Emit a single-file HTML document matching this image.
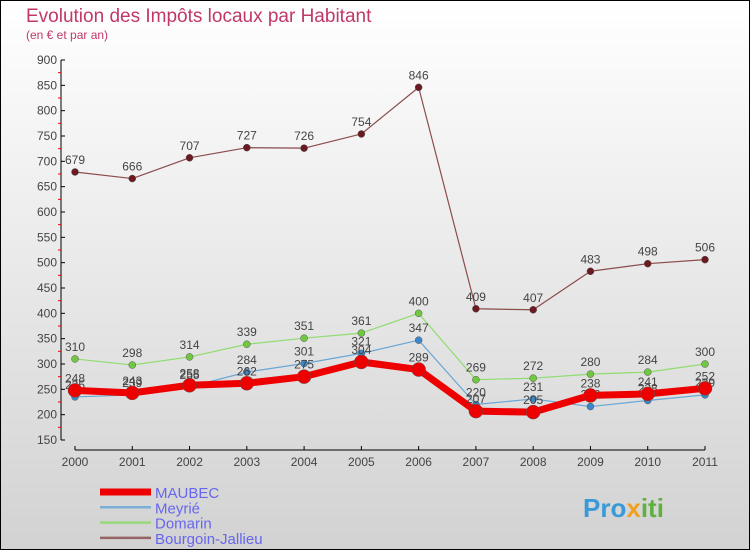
<!DOCTYPE html>
<html><head><meta charset="utf-8"><style>
body{margin:0;width:750px;height:550px;overflow:hidden;font-family:"Liberation Sans",sans-serif}
svg{display:block}
</style></head><body>
<svg id="chart" width="750" height="550" xmlns="http://www.w3.org/2000/svg">
<defs><linearGradient id="bg" x1="0" y1="0" x2="0" y2="1"><stop offset="0" stop-color="#ffffff"/><stop offset="1" stop-color="#d2d2d2"/></linearGradient></defs>
<rect x="0.5" y="0.5" width="749" height="549" fill="url(#bg)" stroke="#000"/>
<text x="26" y="22" font-size="19" fill="#c0386a">Evolution des Impôts locaux par Habitant</text>
<text x="26" y="39" font-size="12" fill="#c0386a">(en € et par an)</text>
<g id="axes"></g>
<g id="series"></g>
<g id="legend"></g>
<text x="583" y="517" font-size="26" font-weight="bold" fill="#3a9ad9">Pro<tspan fill="#f0a020">x</tspan><tspan fill="#60b040">iti</tspan></text>
</svg>
<script>
const years=["2000","2001","2002","2003","2004","2005","2006","2007","2008","2009","2010","2011"];
const yTicks=[150,200,250,300,350,400,450,500,550,600,650,700,750,800,850,900];
const maubec=[248,243,258,262,275,304,289,207,205,238,241,252];
const meyrie=[235,239,255,284,301,321,347,220,231,216,228,239];
const domarin=[310,298,314,339,351,361,400,269,272,280,284,300];
const bourgoin=[679,666,707,727,726,754,846,409,407,483,498,506];
const NS="http://www.w3.org/2000/svg";
function X(i){return 75+i*(630/11);}
function Y(v){return 60+(900-v)*(380/750);}
function mk(t,a,p){const e=document.createElementNS(NS,t);for(const k in a)e.setAttribute(k,a[k]);p.appendChild(e);return e;}
const ax=document.getElementById('axes');
let l=mk('line',{x1:61,y1:60,x2:61,y2:440,stroke:'#000'},ax);


yTicks.forEach((v,i)=>{
 const y=Y(v);
 mk('line',{x1:61,y1:y,x2:65,y2:y,stroke:'#000'},ax);
 if(i<yTicks.length-1)mk('line',{x1:58,y1:y-12.67,x2:61,y2:y-12.67,stroke:'#e00'},ax);
 const t=mk('text',{x:57,y:y+4,'font-size':12,'text-anchor':'end',fill:'#444'},ax);
 t.textContent=v;
 
 
});
l=mk('line',{x1:75,y1:450,x2:705,y2:450,stroke:'#000'},ax);


years.forEach((yr,i)=>{
 mk('line',{x1:X(i),y1:446,x2:X(i),y2:450,stroke:'#000'},ax);
 const t=mk('text',{x:X(i),y:466,'font-size':12,'text-anchor':'middle',fill:'#444'},ax);
 t.textContent=yr;
 
 
});
const sg=document.getElementById('series');
function series(name,data,color,dot,w,r){
 const g=mk('g',{},sg);
 
 
 const p=mk('polyline',{points:data.map((v,i)=>X(i)+','+Y(v)).join(' '),fill:'none',stroke:color,'stroke-width':w,'stroke-linejoin':'round'},g);
 
 
 data.forEach((v,i)=>{
  const c=mk('circle',{cx:X(i),cy:Y(v),r:r,fill:dot,stroke:'#555','stroke-width':0.5},g);
  
  
  const t=mk('text',{x:X(i),y:Y(v)-8,'font-size':12,'text-anchor':'middle',fill:'#444'},g);
  t.textContent=v;
  
  
 });
}
series('bourgoin-jallieu',bourgoin,'#8b4c4c','#6b1a22',1.2,3.5);
series('domarin',domarin,'#90dc70','#70c840',1.2,3.5);
series('meyrie',meyrie,'#6aa6d6','#3a88c8',1.2,3.5);
series('maubec',maubec,'#ee0000','#ee0000',7,7);
const lg=document.getElementById('legend');
[['MAUBEC','#ee0000',7],['Meyrié','#7aaed6',2.5],['Domarin','#98d878',2.5],['Bourgoin-Jallieu','#946464',2.5]].forEach((e,i)=>{
 const y=492+i*15.3;
 const ln=mk('line',{x1:100,y1:y,x2:151,y2:y,stroke:e[1],'stroke-width':e[2]},lg);
 
 
 const t=mk('text',{x:155,y:y+6,'font-size':15,fill:'#6666ee'},lg);
 t.textContent=e[0];
 
 
});
</script>
</body></html>
